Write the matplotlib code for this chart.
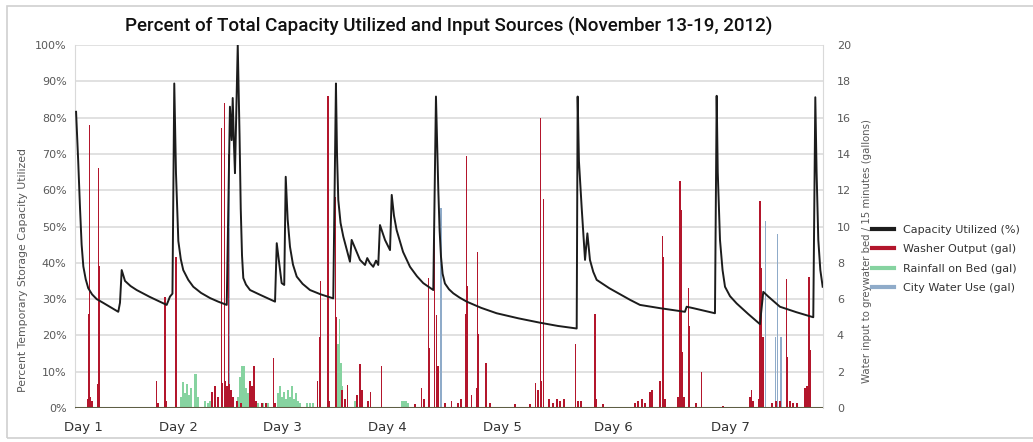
import matplotlib
matplotlib.use('Agg')
import matplotlib.pyplot as plt
from matplotlib.lines import Line2D
from matplotlib.patches import Rectangle

# ---------------- data ----------------
# Capacity utilized (%) vs. time (days since start)
cap_day = [0.010, 0.030, 0.047, 0.062, 0.078, 0.100, 0.124, 0.160, 0.203, 0.262, 0.330, 0.405,
           0.421, 0.437, 0.468, 0.520, 0.577, 0.700, 0.858, 0.889, 0.912, 0.929, 0.945,
           0.967, 0.990, 1.013, 1.060, 1.107, 1.180, 1.263, 1.340, 1.420, 1.450, 1.466,
           1.476, 1.487, 1.497, 1.513, 1.523, 1.540, 1.551, 1.563, 1.575, 1.600, 1.638, 1.731,
           1.872, 1.888, 1.934, 1.958, 1.972, 1.990, 2.012, 2.040, 2.075, 2.130, 2.199, 2.300,
           2.417, 2.442, 2.452, 2.464, 2.485, 2.511, 2.573, 2.589, 2.667, 2.714, 2.735, 2.761,
           2.791, 2.817, 2.838, 2.854, 2.901, 2.948, 2.964, 2.985, 3.010, 3.070, 3.135, 3.200,
           3.259, 3.353, 3.378, 3.390, 3.400, 3.412, 3.425, 3.440, 3.462, 3.500, 3.540, 3.600,
           3.666, 3.800, 3.946, 4.150, 4.351, 4.520, 4.695, 4.704, 4.716, 4.742, 4.773, 4.795,
           4.819, 4.850, 4.882, 5.000, 5.194, 5.287, 5.475, 5.708, 5.724, 5.786, 5.989, 6.005,
           6.015, 6.036, 6.060, 6.083, 6.130, 6.192, 6.300, 6.410, 6.441, 6.488, 6.597, 6.750,
           6.909, 6.928, 6.940, 6.956, 6.975, 6.997]
cap_pct = [81.6, 68.0, 55.0, 45.0, 39.0, 35.5, 33.0, 31.3, 30.0, 29.0, 27.8, 26.5,
           29.0, 38.0, 35.0, 33.6, 32.5, 30.6, 28.4, 30.7, 31.5, 89.4, 64.7,
           46.0, 41.0, 38.0, 35.3, 33.4, 31.7, 30.3, 29.3, 28.4, 83.0, 73.8,
           85.4, 73.0, 64.7, 85.8, 100.0, 75.0, 55.0, 42.0, 35.8, 34.0, 32.5, 31.2,
           29.3, 45.4, 34.4, 33.9, 63.7, 52.0, 44.4, 39.5, 36.2, 34.2, 32.5, 31.3,
           30.2, 89.4, 70.0, 57.3, 51.0, 47.2, 40.3, 46.3, 40.8, 39.4, 41.3, 39.9,
           38.9, 40.6, 39.4, 50.4, 46.3, 43.5, 58.7, 53.0, 49.0, 43.0, 38.9, 36.3,
           34.4, 32.5, 85.8, 72.0, 60.0, 49.0, 41.7, 37.0, 34.3, 32.7, 31.6, 30.4,
           29.3, 27.6, 26.1, 24.7, 23.5, 22.6, 21.9, 85.8, 68.0, 55.0, 40.8, 48.1,
           40.8, 37.5, 35.3, 33.0, 29.8, 28.4, 27.5, 26.5, 27.9, 27.5, 26.1, 86.0,
           65.0, 46.3, 38.0, 33.4, 30.8, 28.8, 25.9, 23.1, 32.0, 30.7, 27.9, 26.4,
           25.0, 85.6, 65.0, 46.3, 38.0, 33.4]

# Washer output (gal per 15 min)
washer_day = [0.117, 0.126, 0.134, 0.145, 0.159, 0.209, 0.218, 0.225, 0.765, 0.777, 0.842, 0.852,
              0.945, 1.282, 1.310, 1.338, 1.373, 1.380, 1.401, 1.408, 1.422, 1.435, 1.446, 1.460,
              1.479, 1.516, 1.553, 1.638, 1.656, 1.675, 1.694, 1.750, 1.787, 1.856, 1.872, 2.267,
              2.288, 2.299, 2.368, 2.377, 2.436, 2.445, 2.499, 2.527, 2.550, 2.639, 2.667, 2.686,
              2.742, 2.765, 2.870, 3.182, 3.244, 3.266, 3.306, 3.313, 3.364, 3.383, 3.397, 3.462,
              3.525, 3.584, 3.612, 3.654, 3.666, 3.673, 3.710, 3.757, 3.765, 3.771, 3.846, 3.854,
              3.884, 4.118, 4.258, 4.309, 4.333, 4.354, 4.360, 4.382, 4.436, 4.473, 4.511, 4.539,
              4.576, 4.686, 4.707, 4.735, 4.866, 4.876, 4.941, 5.240, 5.268, 5.306, 5.334, 5.381,
              5.400, 5.475, 5.496, 5.505, 5.521, 5.643, 5.662, 5.670, 5.685, 5.699, 5.740, 5.746,
              5.811, 5.865, 6.064, 6.317, 6.331, 6.345, 6.401, 6.410, 6.420, 6.438, 6.522, 6.560,
              6.597, 6.660, 6.670, 6.691, 6.719, 6.756, 6.831, 6.850, 6.869, 6.878]
washer_gal = [0.5, 5.2, 15.6, 0.6, 0.4, 1.3, 13.2, 7.8, 1.5, 0.3, 6.1, 0.4,
              8.3, 0.9, 1.2, 0.6, 15.4, 1.4, 16.8, 1.5, 1.2, 14.0, 1.3, 1.0,
              0.6, 0.4, 0.3, 1.5, 1.2, 2.3, 0.4, 0.3, 0.3, 2.75, 0.3, 1.5,
              3.9, 7.0, 17.2, 0.4, 11.6, 5.0, 1.0, 0.5, 1.25, 0.7, 2.4, 1.0,
              0.4, 0.9, 2.3, 0.2, 1.1, 0.5, 7.15, 3.3, 12.9, 5.1, 2.3, 0.3,
              0.4, 0.3, 0.5, 5.2, 13.9, 6.7, 0.7, 1.1, 8.6, 4.1, 2.5, 1.8,
              0.3, 0.2, 0.2, 1.4, 1.0, 16.0, 1.5, 11.5, 0.5, 0.3, 0.5, 0.4,
              0.5, 3.5, 0.4, 0.4, 5.2, 0.5, 0.2, 0.3, 0.4, 0.5, 0.3, 0.9,
              1.0, 1.5, 9.5, 8.3, 0.5, 0.6, 12.5, 10.9, 3.1, 0.6, 6.6, 4.5,
              0.3, 2.0, 0.1, 0.6, 1.0, 0.4, 0.5, 11.4, 7.7, 3.9, 0.3, 0.4,
              0.4, 7.1, 2.8, 0.4, 0.3, 0.3, 1.1, 1.2, 7.2, 3.2]

# Rainfall on bed (gal per 15 min)
rain_day = [0.992, 1.010, 1.029, 1.048, 1.066, 1.085, 1.123, 1.137, 1.151, 1.216, 1.244, 1.263,
            1.525, 1.544, 1.563, 1.581, 1.600, 1.619, 1.713, 1.759, 1.806, 1.900, 1.919, 1.937,
            1.956, 1.975, 1.993, 2.012, 2.031, 2.049, 2.068, 2.087, 2.105, 2.171, 2.199, 2.227,
            2.442, 2.461, 2.474, 2.489, 2.503, 2.620, 3.060, 3.079, 3.098, 3.117]
rain_gal = [0.6, 1.45, 0.8, 1.3, 0.7, 1.1, 1.9, 1.9, 0.6, 0.4, 0.3, 0.4,
            0.6, 1.7, 2.3, 2.3, 1.1, 0.8, 0.3, 0.3, 0.3, 0.8, 1.2, 0.6,
            0.9, 0.5, 1.0, 0.6, 1.2, 0.5, 0.8, 0.4, 0.3, 0.3, 0.3, 0.3,
            2.0, 3.5, 4.9, 2.5, 1.2, 0.4, 0.4, 0.4, 0.4, 0.3]

# City water use (gal per 15 min)
city_day = [1.446, 3.425, 6.463, 6.556, 6.576, 6.607]
city_gal = [14.0, 11.0, 10.3, 3.9, 9.6, 3.9]

day_ticks = [0.075, 0.964, 1.937, 2.920, 3.996, 5.035, 6.130]
day_labels = ['Day 1', 'Day 2', 'Day 3', 'Day 4', 'Day 5', 'Day 6', 'Day 7']
pct_ticks = [0, 10, 20, 30, 40, 50, 60, 70, 80, 90, 100]
pct_labels = ['0%', '10%', '20%', '30%', '40%', '50%', '60%', '70%', '80%', '90%', '100%']
gal_ticks = [0, 2, 4, 6, 8, 10, 12, 14, 16, 18, 20]

title = 'Percent of Total Capacity Utilized and Input Sources (November 13-19, 2012)'
left_label = 'Percent Temporary Storage Capacity Utilized'
right_label = 'Water input to greywater bed / 15 minutes (gallons)'
legend_labels = ['Capacity Utilized (%)', 'Washer Output (gal)', 'Rainfall on Bed (gal)',
                 'City Water Use (gal)']

# ---------------- style ----------------
C_CAP = '#1c1c1c'
C_WASH = '#b3162c'
C_RAIN = '#86d3a0'
C_CITY = '#8fabc9'
C_GRID = '#d9d9d9'
C_TXT = '#595959'

W, H = 1033, 442
fig = plt.figure(figsize=(W / 100, H / 100), dpi=100)
fig.patch.set_facecolor('white')
fig.patches.append(Rectangle((7 / W, 4 / H), 1.0, 1 - 10 / H, transform=fig.transFigure,
                             fill=False, edgecolor='#d0d0d0', linewidth=1.2))

l, r, t, b = 75, 823, 45, 408
ax2 = fig.add_axes([l / W, 1 - b / H, (r - l) / W, (b - t) / H])
ax = ax2.twinx()

bw = 0.012
ax2.bar(rain_day, rain_gal, width=bw * 1.3, color=C_RAIN, zorder=2, linewidth=0)
ax2.bar(city_day, city_gal, width=bw, color=C_CITY, zorder=2, linewidth=0)
ax2.bar(washer_day, washer_gal, width=bw, color=C_WASH, zorder=3, linewidth=0)
ax2.axhline(0, color='#5e5e45', lw=2.2, zorder=4)

ax2.set_ylim(0, 20)
ax2.set_xlim(0, 7)
ax2.set_yticks(gal_ticks)
ax2.yaxis.tick_right()
ax2.yaxis.set_label_position('right')
ax2.grid(axis='y', color=C_GRID, lw=1.1, zorder=0)
ax2.set_axisbelow(True)

ax.plot(cap_day, cap_pct, color=C_CAP, lw=1.4, zorder=5)
ax.set_ylim(0, 100)
ax.set_yticks(pct_ticks)
ax.set_yticklabels(pct_labels)
ax.yaxis.tick_left()
ax.yaxis.set_label_position('left')
ax.set_zorder(ax2.get_zorder() + 1)
ax.patch.set_visible(False)

ax2.set_xticks(day_ticks)
ax2.set_xticklabels(day_labels)

for a in (ax, ax2):
    a.tick_params(length=0, labelsize=8, labelcolor=C_TXT)
    for s in a.spines.values():
        s.set_visible(False)
ax2.tick_params(axis='x', labelsize=9.5, labelcolor='#333333', pad=9)
ax2.tick_params(axis='y', pad=10)
ax.tick_params(axis='y', pad=6)
for side in ('left', 'right'):
    ax2.spines[side].set_visible(True)
    ax2.spines[side].set_color(C_GRID)

ax.set_ylabel(left_label, fontsize=7.8, color=C_TXT)
ax.yaxis.set_label_coords((28 - l) / (r - l), (b - 270) / (b - t))
ax2.set_ylabel(right_label, fontsize=7.3, color=C_TXT)
ax2.yaxis.set_label_coords((862 - l) / (r - l), (b - 251) / (b - t))

fig.text(449 / W, 1 - 26 / H, title, ha='center', va='center', fontsize=13.5,
         family=['Roboto', 'DejaVu Sans'], fontweight='medium', color='#111111')

handles = [Line2D([], [], color=c, lw=3) for c in (C_CAP, C_WASH, C_RAIN, C_CITY)]
fig.legend(handles, legend_labels, loc='center left', bbox_to_anchor=(862 / W, 1 - 259 / H),
           frameon=False, fontsize=8, handlelength=2.0, labelspacing=0.85,
           handletextpad=0.8, labelcolor='#333333')

fig.savefig('out.png', dpi=100, facecolor='white')
